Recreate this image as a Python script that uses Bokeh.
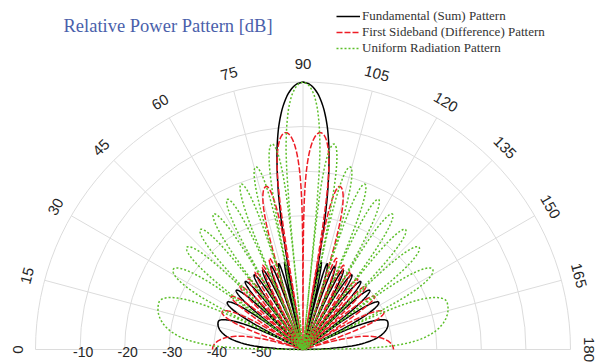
import numpy as np
from bokeh.plotting import figure
from bokeh.models import Legend, LegendItem, Label
from bokeh.embed import file_html
from bokeh.resources import INLINE
from bokeh.core.properties import value

# ---------------- data ----------------
# radial axis in dB, angular axis in degrees (0 at left, 180 at right)
R_MIN, R_MAX = -60.0, 0.0
r_ticks = [-50, -40, -30, -20, -10, 0]
r_tick_labels = ["-50", "-40", "-30", "-20", "-10", ""]
theta_ticks = [0, 15, 30, 45, 60, 75, 90, 105, 120, 135, 150, 165, 180]
theta_tick_labels = ["0", "15", "30", "45", "60", "75", "90", "105", "120", "135", "150", "165", "180"]

# Patterns are symmetric about 90 deg; values below are for 0..90 deg.
# lobe boundaries (nulls), lobe peak angles and peak levels [dB]
uni_bounds = [0.0, 25.8, 36.9, 45.6, 53.1, 60.0, 66.4, 72.5, 78.5, 84.3]
uni_peaks = [18.2, 31.8, 41.4, 49.5, 56.6, 63.3, 69.5, 75.5, 81.4]
uni_levels = [-26.0, -25.8, -25.3, -24.6, -23.6, -22.3, -20.4, -17.7, -13.4]
# main beam: half-width [deg] at given levels [dB]
uni_main_levels = [0, -3, -6, -10, -15, -20, -30, -40, -50, -60]
uni_main_offsets = [0.0, 2.55, 3.45, 4.2, 4.85, 5.2, 5.55, 5.68, 5.72, 5.74]

sum_bounds = [0.0, 26.0, 37.1, 45.8, 53.3, 60.1, 66.1, 71.7, 76.4, 79.4]
sum_peaks = [18.3, 32.0, 41.6, 49.7, 56.8, 63.2, 69.1, 74.2, 78.2]
sum_levels = [-40.0, -40.0, -40.0, -40.0, -40.0, -40.0, -40.0, -40.0, -40.0]
sum_main_levels = [0, -3, -6, -10, -15, -20, -25, -30, -35, -40, -45, -50, -60]
sum_main_offsets = [0.0, 3.6, 5.0, 6.3, 7.45, 8.3, 9.0, 9.5, 9.85, 10.1, 10.3, 10.4, 10.55]

dif_bounds = [0.0, 18.0, 32.0, 41.5, 49.0, 55.5, 61.5, 67.0, 72.5, 80.6, 90.0]
dif_peaks = [0.0, 25.0, 36.5, 45.2, 52.3, 58.5, 64.2, 69.8, 77.3, 85.4]
dif_levels = [-39.7, -40.0, -40.0, -40.0, -40.0, -39.5, -39.0, -38.2, -22.5, -11.2]

# ---------------- geometry helpers ----------------
RADIUS = 267.5  # pixel radius of the outer (0 dB) ring


def rad(db):
    db = np.clip(np.asarray(db, dtype=float), R_MIN, R_MAX)
    return (db - R_MIN) / (R_MAX - R_MIN) * RADIUS


def to_xy(theta_deg, db):
    r = rad(db)
    t = np.radians(np.asarray(theta_deg, dtype=float))
    return -r * np.cos(t), r * np.sin(t)


def petal(a, p, b, level, n=40):
    th, u = [], []
    if p > a:
        th.append(np.linspace(a, p, n))
        u.append(np.linspace(0.0, 0.5, n))
    if b > p:
        th.append(np.linspace(p, b, n))
        u.append(np.linspace(0.5, 1.0, n))
    th = np.concatenate(th)
    u = np.concatenate(u)
    s = np.clip(np.sin(np.pi * u), 1e-9, None)
    return th, level + 20 * np.log10(s)


def main_half(levels, offsets, n=160):
    lv = np.asarray(levels, float)
    of = np.asarray(offsets, float)
    t_tab = np.sqrt(-lv)                 # increasing
    dense = np.linspace(R_MIN, 0.0, n)   # from the null up to the peak
    d = np.interp(np.sqrt(-dense), t_tab, of)
    return 90.0 - d, dense


def build(bounds, peaks, levels, main_levels=None, main_offsets=None):
    th_parts, db_parts = [], []
    for i in range(len(peaks)):
        th, db = petal(bounds[i], peaks[i], bounds[i + 1], levels[i])
        th_parts.append(th)
        db_parts.append(db)
    if main_levels is not None:
        th, db = main_half(main_levels, main_offsets)
        th_parts.append(th)
        db_parts.append(db)
    th = np.concatenate(th_parts)
    db = np.concatenate(db_parts)
    th_full = np.concatenate([th, (180.0 - th)[::-1]])
    db_full = np.concatenate([db, db[::-1]])
    return to_xy(th_full, db_full)


# ---------------- figure ----------------
W, H = 605, 363
CX, CY = 302.5, 349.0
p = figure(width=W, height=H, x_range=(-CX, W - CX), y_range=(CY - H, CY),
           output_backend="svg", toolbar_location=None, min_border=0)
p.axis.visible = False
p.grid.visible = False
p.outline_line_color = None
p.background_fill_color = "white"
p.border_fill_color = "white"

grid_color = "#dcdcdc"
# rings
p.arc(x=0, y=0, radius=[float(rad(t)) for t in r_ticks], start_angle=0, end_angle=np.pi,
      line_color=grid_color, line_width=1)
# spokes
sx, sy = to_xy(theta_ticks, [R_MAX] * len(theta_ticks))
p.segment(x0=0, y0=0, x1=sx, y1=sy, line_color=grid_color, line_width=1)

# radial tick labels
p.text(x=[-float(rad(t)) + 3 for t in r_ticks], y=[-2] * len(r_ticks), text=r_tick_labels,
       text_align="center", text_baseline="middle", text_font=value("Liberation Sans"),
       text_font_size="14px", text_color="#262626")

# angular tick labels
lx, ly = to_xy(theta_ticks, [R_MAX] * len(theta_ticks))
scale = (RADIUS + 18) / RADIUS
p.text(x=lx * scale, y=ly * scale, text=theta_tick_labels,
       angle=[np.radians(90 - t) for t in theta_ticks],
       text_align="center", text_baseline="middle", text_font=value("Liberation Sans"),
       text_font_size="15px", text_color="#262626")

# patterns
bx, by = build(sum_bounds, sum_peaks, sum_levels, sum_main_levels, sum_main_offsets)
r_sum = p.line(bx, by, line_color="black", line_width=1.5)
dx, dy = build(dif_bounds, dif_peaks, dif_levels)
r_dif = p.line(dx, dy, line_color="#ee1c25", line_width=1.5, line_dash="6 2")
ux, uy = build(uni_bounds, uni_peaks, uni_levels, uni_main_levels, uni_main_offsets)
r_uni = p.line(ux, uy, line_color="#5cbf2a", line_width=1.5, line_dash="2 2")

legend = Legend(items=[
    LegendItem(label="Fundamental (Sum) Pattern", renderers=[r_sum]),
    LegendItem(label="First Sideband (Difference) Pattern", renderers=[r_dif]),
    LegendItem(label="Uniform Radiation Pattern", renderers=[r_uni]),
], location=(336, 307), padding=0, spacing=0, margin=0, glyph_width=24, glyph_height=16,
    label_height=16, label_standoff=2, border_line_color=None, background_fill_alpha=0,
    label_text_font="Liberation Serif", label_text_font_size="13px", label_text_color="#333333")
p.add_layout(legend)

title = Label(x=63, y=338, x_units="screen", y_units="screen", text="Relative Power Pattern [dB]",
              text_font="Liberation Serif", text_font_size="18.5px", text_color="#4a5fab",
              text_baseline="alphabetic")
p.add_layout(title)

open("out.html", "w").write(file_html(p, INLINE))
